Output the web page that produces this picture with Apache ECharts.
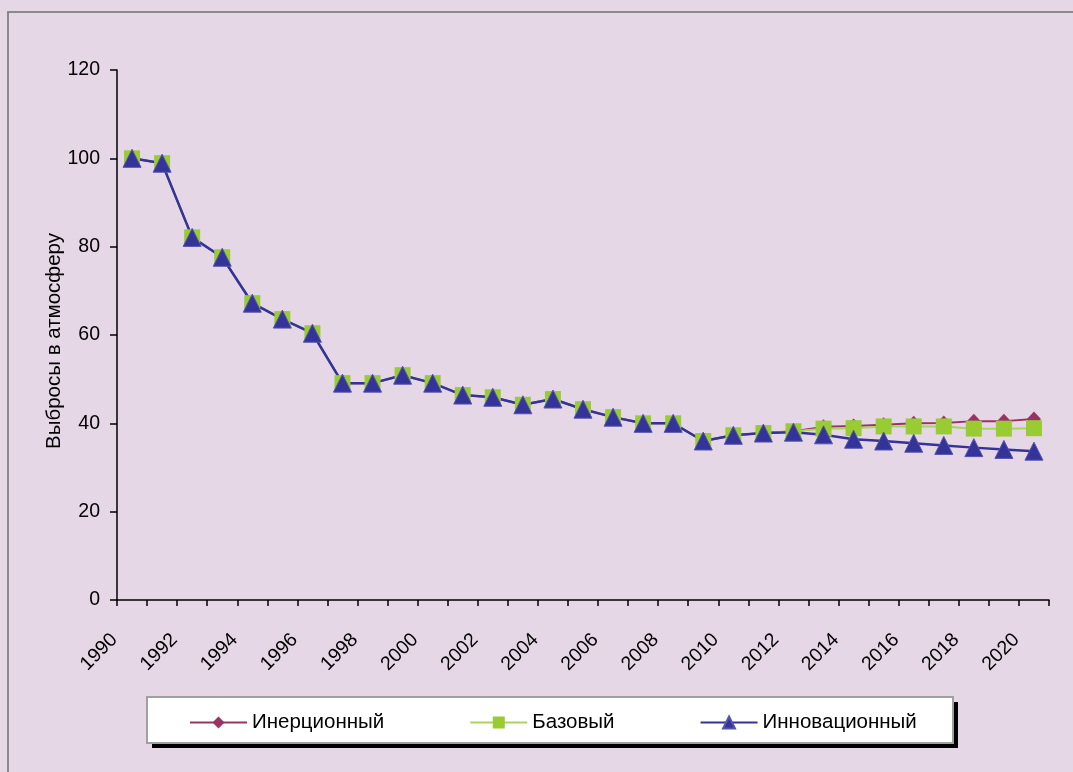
<!DOCTYPE html>
<html>
<head>
<meta charset="utf-8">
<script src="https://cdn.jsdelivr.net/npm/echarts@6/dist/echarts.min.js"></script>
<style>
html,body{margin:0;padding:0;background:#E6D7E7;}
#c{width:1073px;height:772px;}
</style>
</head>
<body>
<div id="c"></div>
<script>
const years = ['1990','1991','1992','1993','1994','1995','1996','1997','1998','1999','2000','2001','2002','2003','2004','2005','2006','2007','2008','2009','2010','2011','2012','2013','2014','2015','2016','2017','2018','2019','2020'];
const inertial = [100,98.9,82.1,77.6,67.2,63.6,60.4,49.1,49.1,50.9,49.1,46.4,45.9,44.2,45.5,43.2,41.4,40.0,40.0,36.0,37.3,37.8,38.2,39.2,39.4,39.7,40.0,40.1,40.5,40.5,41.0];
const base = [100,98.9,82.1,77.6,67.2,63.6,60.4,49.1,49.1,50.9,49.1,46.4,45.9,44.2,45.5,43.2,41.4,40.0,40.0,36.0,37.3,37.8,38.2,38.8,38.9,39.3,39.3,39.3,38.8,38.8,38.9];
const innovative = [100,98.9,82.1,77.6,67.2,63.6,60.4,49.1,49.1,50.9,49.1,46.4,45.9,44.2,45.5,43.2,41.4,40.0,40.0,36.0,37.3,37.8,38.0,37.4,36.4,36.0,35.5,35.0,34.5,34.1,33.7];
const seriesNames = ['Инерционный','Базовый','Инновационный'];
const yTitle = 'Выбросы в атмосферу';

const FONT = 'Liberation Sans';
const chart = echarts.init(document.getElementById('c'));
chart.setOption({
  backgroundColor: '#E6D7E7',
  animation: false,
  textStyle: {fontFamily: FONT},
  graphic: [
    {type:'rect', z:0, shape:{x:8,y:12,width:1200,height:900}, style:{fill:'none', stroke:'#8a8a8a', lineWidth:2}},
    {type:'rect', z:1, shape:{x:152,y:702,width:806,height:46}, style:{fill:'#000'}},
    {type:'rect', z:2, shape:{x:147,y:697,width:806,height:46}, style:{fill:'#fff', stroke:'#a0a0a0', lineWidth:2}}
  ],
  grid: {left:117, right:24, top:70, bottom:172, containLabel:false},
  legend: {
    z: 10,
    left: 184, top: 707,
    itemGap: 85, itemWidth: 57, itemHeight: 15,
    textStyle: {fontFamily: FONT, fontSize: 20.5, color:'#000'},
    data: seriesNames
  },
  xAxis: {
    type: 'category', data: years, boundaryGap: true,
    axisLine: {lineStyle:{color:'#000', width:1.5}},
    axisTick: {show:true, interval:0, length:6, lineStyle:{color:'#000', width:1.5}},
    axisLabel: {interval:1, rotate:45, fontSize:19.5, color:'#000', margin:19, padding:[0,25,0,0], fontFamily: FONT}
  },
  yAxis: {
    type: 'value', min:0, max:120, interval:20,
    name: yTitle, nameLocation:'middle', nameGap:52, nameRotate:90, nameMoveOverlap:false,
    nameTextStyle: {fontSize:20.5, color:'#000', fontFamily: FONT, padding:[0,12,0,0]},
    axisLine: {show:true, lineStyle:{color:'#000', width:1.5}},
    axisTick: {show:true, length:7, lineStyle:{color:'#000', width:1.5}},
    axisLabel: {fontSize:19.5, color:'#000', margin:17, fontFamily: FONT},
    splitLine: {show:false}
  },
  series: [
    {name: seriesNames[0], type:'line', data: inertial, symbol:'diamond', symbolSize:[14,15],
     itemStyle:{color:'#993366'}, lineStyle:{color:'#993366', width:2}},
    {name: seriesNames[1], type:'line', data: base, symbol:'rect', symbolSize:16,
     itemStyle:{color:'#99CC33'}, lineStyle:{color:'#A6D65A', width:2}},
    {name: seriesNames[2], type:'line', data: innovative, symbol:'triangle', symbolSize:[18,18],
     itemStyle:{color:'#333399', borderColor:'#5555AA', borderWidth:1}, lineStyle:{color:'#333399', width:2.5}}
  ]
});
</script>
</body>
</html>
